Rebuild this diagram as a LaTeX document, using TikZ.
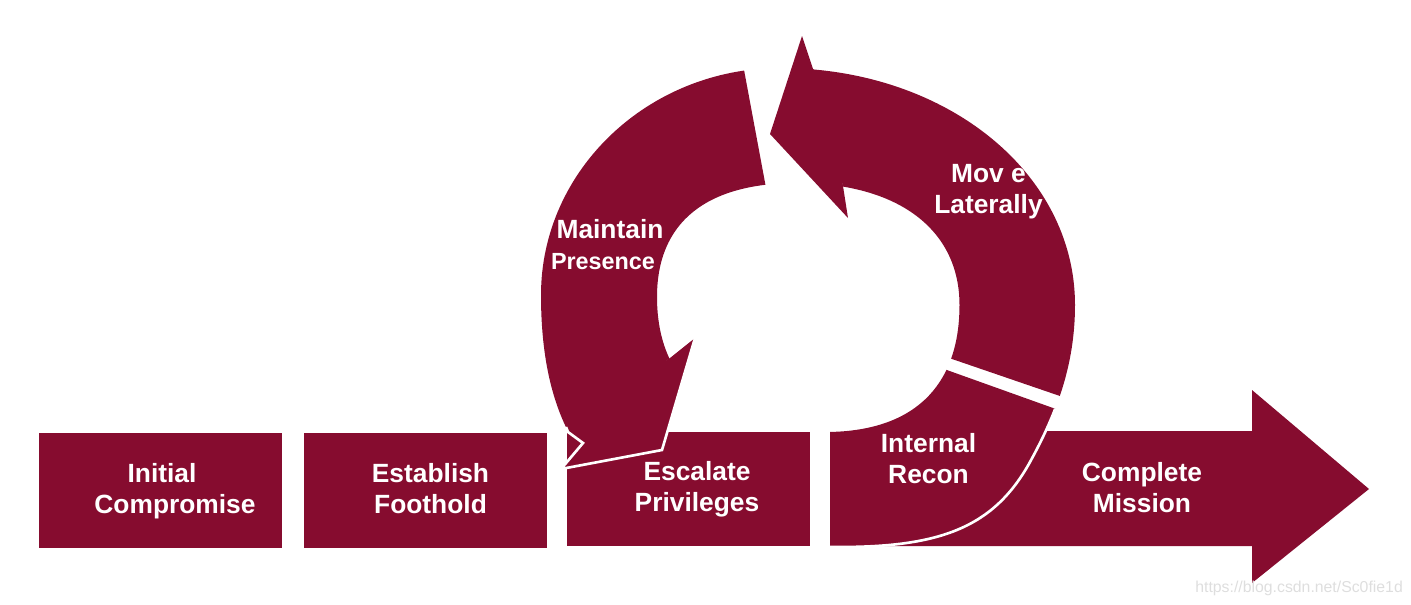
\documentclass[tikz,border=0pt]{standalone}
\usepackage{fontspec}
\setmainfont{Liberation Sans}
\definecolor{ckred}{RGB}{134,12,47}
\begin{document}
\begin{tikzpicture}[x=0.02cm, y=-0.02cm,
  stepbox/.style={fill=ckred, draw=none, inner sep=0pt, minimum width=4.86cm, minimum height=2.3cm},
  wline/.style={draw=white, line width=1.5pt, line join=miter},
  lbl/.style={text=white, font=\fontsize{15}{17.6}\selectfont\bfseries, align=center, inner sep=0pt, anchor=base},
  outerring/.style={insert path={(780,68) .. controls (945.2,68) and (1075,172.3) .. (1075,305)
      .. controls (1075,365) and (1056.5,413.8) .. (1030,462)
      .. controls (993.8,527.7) and (940,547) .. (840,547)
      .. controls (630.7,547) and (541,471.4) .. (541,295)
      .. controls (541,170.1) and (648.6,68) .. (780,68) -- cycle}},
  innerring/.style={insert path={(797,183) .. controls (898,183) and (959.5,229.4) .. (959.5,305)
      .. controls (959.5,387.6) and (912.4,432) .. (825,432)
      .. controls (715.8,432) and (657,384.8) .. (657,297)
      .. controls (657,221.6) and (707,183) .. (797,183) -- cycle}},
]
\useasboundingbox (0,0) rectangle (1411,605);

% stage boxes
\node[stepbox] (b1) at (160.5,490.5) {};
\node[stepbox] (b2) at (425.5,490.5) {};
\node[stepbox, minimum height=2.28cm] (b3) at (688.5,489) {};

% Complete Mission arrow
\fill[ckred] (870,431) -- (1252,431) -- (1252,390) -- (1369,489) -- (1252,583) -- (1252,546) -- (870,546) -- cycle;

% Internal Recon segment
\begin{scope}
  \clip (830,328.2) -- (1411,536.1) -- (1411,605) -- (830,605) -- cycle;
  \fill[ckred, even odd rule] [outerring] [innerring];
  \draw[wline] [outerring];
\end{scope}

% Move Laterally arrow
\begin{scope}
  \clip (881.1,334.7) -- (795.3,0) -- (1411,0) -- (1411,516.3) -- cycle;
  \fill[ckred, even odd rule] [outerring] [innerring];
\end{scope}
\fill[ckred] (813,69) -- (802,36) -- (770,134) -- (848,218) -- (843,186) -- (836,140) -- (818,73) -- cycle;

% Maintain Presence arrow
\begin{scope}
  \clip (731,0) -- (782.5,276.4) -- (517,469) -- (0,469) -- (0,0) -- cycle;
  \fill[ckred, even odd rule] [outerring] [innerring];
\end{scope}
\fill[ckred] (566,430) -- (583,443) -- (561,469) -- (662,450) -- (695,338) -- (670,358) -- (618,390) -- (566,426) -- cycle;
\draw[wline] (566,427) -- (568,432) -- (583,443) -- (561,469) -- (662,450) -- (695,338);

% labels
\node[lbl] (l1) at (175,513) {Initial\hspace*{0.52cm}\\Compromise};
\node[lbl] (l2) at (430.5,513) {Establish\\Foothold};
\node[lbl] (l3) at (697,511) {Escalate\\Privileges};
\node[lbl] (l4) at (928.5,483) {Internal\\Recon};
\node[lbl] (l5) at (1142,512) {Complete\\Mission};
\node[lbl] (l6) at (610,269) {Maintain\\{\fontsize{13.3}{15.6}\selectfont Presence}\hspace*{0.28cm}};
\node[lbl] (l7) at (988.5,213) {Mov e\\Laterally};

% watermark
\node[font=\fontsize{9}{10}\selectfont, text=black!13, anchor=base west, inner sep=0pt] (wm) at (1195,592) {https://blog.csdn.net/Sc0fie1d};
\end{tikzpicture}
\end{document}
